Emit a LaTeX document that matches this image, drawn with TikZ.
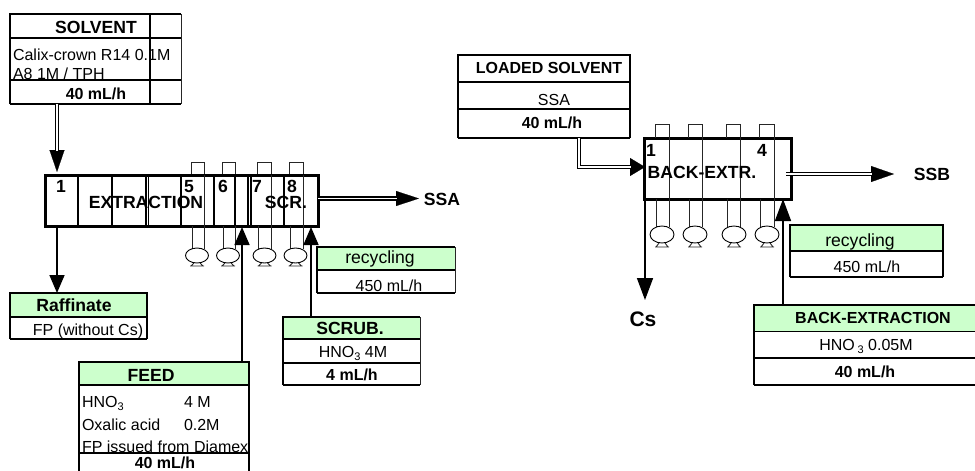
\documentclass[tikz,border=0pt]{standalone}
\usepackage{fontspec}
\setmainfont{Liberation Sans}
\usetikzlibrary{arrows.meta,shapes.geometric,calc}
\definecolor{palegreen}{HTML}{CCFFCC}
\tikzset{
  x=1pt,y=-1pt,
  lbl/.style={inner sep=0pt,outer sep=0pt,text height=11.5pt,text depth=0pt,font=\fontsize{16}{18}\selectfont},
  lblb/.style={lbl,font=\fontsize{16}{18}\selectfont\bfseries},
  lblB/.style={lbl,font=\fontsize{17.6}{20}\selectfont\bfseries},
  lblg/.style={lbl,font=\fontsize{17.6}{20}\selectfont},
  panel/.style={inner sep=0pt,outer sep=0pt,anchor=north west},
  tline/.style={line width=1.6pt,black},
  thin line/.style={line width=0.9pt,black!85},
  thick box/.style={draw=black,line width=3pt},
  pipe/.style={line width=0.9pt,black!85},
  arrow solid/.style={line width=1.6pt,-{Triangle[length=18pt,width=15pt]}},
  pumpbody/.style={ellipse,draw=black,line width=0.9pt,fill=white,inner sep=0pt,outer sep=0pt},
}
% \panel{name}{x1}{y1}{x2}{y2}{style}
\newcommand{\panel}[6]{%
  \pgfmathsetmacro{\pw}{#4-#2}\pgfmathsetmacro{\ph}{#5-#3}%
  \node[panel,minimum width=\pw pt,minimum height=\ph pt,#6] (#1) at (#2,#3) {};}
% \dblconn{tip length}{tip width}{path}
\newcommand{\dblconn}[3]{%
  \draw[line width=0.2pt,-{Triangle[length=#1pt,width=#2pt]}] #3;
  \draw[line width=4.4pt,black,shorten >=#1pt-1pt] #3;
  \draw[line width=1.5pt,white,shorten >=#1pt-1pt] #3;}
\begin{document}
\begin{tikzpicture}[x=1pt,y=-1pt]
\useasboundingbox (0,0) rectangle (975,471);

% ===== green fills =====
\panel{raffhead}{10}{293}{147}{317}{fill=palegreen}
\panel{feedhead}{79}{362}{249}{385}{fill=palegreen}
\panel{scrubhead}{283}{317}{420}{339}{fill=palegreen}
\panel{recy1head}{317}{247}{455}{270}{fill=palegreen}
\panel{recy2head}{790}{225}{943}{251}{fill=palegreen}
\panel{backhead}{754}{305}{975}{331}{fill=palegreen}

% ===== SOLVENT table =====
\panel{solvent}{10}{14}{181}{104}{}
\draw[tline] (10,104) -- (10,14) -- (181,14) (10,38) -- (181,38) (10,80) -- (181,80) (10,104) -- (181,104) (150,14) -- (150,104);
\draw[thin line] (181,14) -- (181,104);
\node[lblB] (tsolvent) at (96,28) {SOLVENT};
\node[lbl,anchor=west] (tcalix) at (13,55) {Calix-crown R14 0.1M};
\node[lbl,anchor=west] (ta8) at (13,74) {A8 1M / TPH};
\draw[tline] (10,80) -- (181,80);
\node[lblb] (tsolflow) at (96,94) {40 mL/h};

% ===== EXTRACTION battery =====
\panel{extr}{45}{175}{318}{226}{thick box}
\foreach \vx in {78,112,146,148.5,181,214,235,284}{\draw[line width=1.1pt] (\vx,175) -- (\vx,226);}
\draw[line width=1.4pt] (248,175) -- (248,226) (251,175) -- (251,226);
\draw[pipe] (204,175) -- (204,226) (271,175) -- (271,226) (303,175) -- (303,226);
\foreach \nm/\xl/\xr/\cx in {pa/191/204/197,pb/222/235/228,pc/257/271/264.5,pd/289/303/295.5}{
  \draw[pipe] (\xl,174) -- (\xl,162) -- (\xr,162) -- (\xr,174);
  \draw[pipe] (\xl+1,226) -- (\xl+1,249) (\xr,226) -- (\xr,249);
  \node[pumpbody,minimum width=23pt,minimum height=15pt] (\nm) at (\cx,255.5) {};
  \draw[pipe] (\cx-7,266) -- (\cx+7,266) (\cx-6,266) -- (\cx-3,263) (\cx+6,266) -- (\cx+3,263);
}
\node[lblB] (tone) at (61,187) {1};
\node[lblB] (textraction) at (146,203) {EXTRACTION};
\node[lblB] (tfive) at (189,187) {5};
\node[lblB] (tsix) at (223,187) {6};
\node[lblB] (tseven) at (257,187) {7};
\node[lblB] (teight) at (292,187) {8};
\node[lblB] (tscr) at (286,203) {SCR.};

% ===== recycling (left) =====
\draw[tline] (317,293) -- (317,247) -- (455,247) (317,270) -- (455,270) (317,293) -- (455,293);
\draw[thin line] (455,247) -- (455,293);
\node[lblg] (trecy1) at (380,258) {recycling};
\node[lbl] (trecy1f) at (389,286) {450 mL/h};

% ===== Raffinate =====
\draw[tline] (10,339) -- (10,293) -- (147,293) -- (147,339) (10,317) -- (147,317) (10,339) -- (147,339);
\node[lblB] (traff) at (74,306) {Raffinate};
\node[lbl] (tfp) at (88,330) {FP (without Cs)};

% ===== FEED =====
\draw[tline] (79,471) -- (79,362) -- (249,362) -- (249,471) (79,385) -- (249,385);
\node[lblB] (tfeed) at (151,376) {FEED};
\node[lbl,anchor=west] (thno) at (82,402) {HNO\raisebox{-2.5pt}{\fontsize{11}{11}\selectfont 3}};
\node[lbl,anchor=west] (tfour) at (184,402) {4 M};
\node[lbl,anchor=west] (tox) at (82,425) {Oxalic acid};
\node[lbl,anchor=west] (toxm) at (184,425) {0.2M};
\node[lbl,anchor=west] (tfpi) at (82,447) {FP issued from Diamex};
\draw[tline] (79,453) -- (249,453);
\node[lblb] (tfeedf) at (165,462.5) {40 mL/h};

% ===== SCRUB =====
\draw[tline] (283,385) -- (283,317) -- (420,317) (283,339) -- (420,339) (283,363) -- (420,363) (283,385) -- (420,385);
\draw[thin line] (420,317) -- (420,385);
\node[lblB] (tscrub) at (350,329) {SCRUB.};
\node[lbl] (thno2) at (353,352) {HNO\raisebox{-2.5pt}{\fontsize{11}{11}\selectfont 3} 4M};
\node[lblb] (tscrubf) at (352,375) {4 mL/h};

% ===== LOADED SOLVENT =====
\panel{loaded}{458}{55}{630}{138}{}
\draw[tline] (458,138) -- (458,55) -- (630,55) -- (630,138) (458,109) -- (630,109) (458,138) -- (630,138);
\draw[line width=1.1pt] (458,82) -- (631,82);
\node[lblb] (tloaded) at (549,68) {LOADED SOLVENT};
\node[lbl] (tssa2) at (554,100) {SSA};
\node[lblb] (tloadf) at (552,123) {40 mL/h};

% ===== BACK-EXTR battery =====
\panel{bext}{644}{138}{791}{199}{thick box}
\foreach \nm/\xl/\xr/\cx in {qa/655/669/662,qb/688/702/695,qc/726/740/734,qd/759/774/767}{
  \draw[pipe] (\xl,138) -- (\xl,124) -- (\xr,124) -- (\xr,138);
  \draw[pipe] (\xr,138) -- (\xr,227);
  \draw[pipe] (\xl+1,199) -- (\xl+1,227);
  \node[pumpbody,minimum width=24pt,minimum height=17pt] (\nm) at (\cx,234.5) {};
  \draw[pipe] (\cx-7,247) -- (\cx+7,247) (\cx-6,247) -- (\cx-3,243) (\cx+6,247) -- (\cx+3,243);
}
\node[lblB] (tb1) at (651,151) {1};
\node[lblB] (tb4) at (762,151) {4};
\node[lblB] (tbext) at (702,173) {BACK-EXTR.};

% ===== recycling (right) =====
\draw[tline] (790,277) -- (790,225) -- (943,225) -- (943,277) (790,251) -- (943,251) (790,277) -- (943,277);
\node[lblg] (trecy2) at (860,241) {recycling};
\node[lbl] (trecy2f) at (867,267) {450 mL/h};

% ===== BACK-EXTRACTION =====
\draw[tline] (754,385) -- (754,305) -- (975,305) (754,358) -- (975,358) (754,385) -- (975,385);
\draw[line width=1pt] (754,331) -- (975,331);
\node[lblb] (tbackx) at (873,318) {BACK-EXTRACTION};
\node[lbl] (thno3) at (866,345) {HNO\,\raisebox{-2.5pt}{\fontsize{11}{11}\selectfont 3} 0.05M};
\node[lblb] (tbackf) at (865,372) {40 mL/h};

% ===== outlet labels =====
\node[lblB] (ssa) at (442,200) {SSA};
\node[lblB] (ssb) at (932,175) {SSB};
\node[lbl,font=\fontsize{21}{24}\selectfont\bfseries,text height=14.5pt] (cs) at (643,319) {Cs};

% ===== connector ends =====
\coordinate (solin) at (57,172);
\coordinate (rafx) at (57,226);
\coordinate (feedin) at (242,227);
\coordinate (scrubin) at (311,227);
\coordinate (ssaend) at (419,198.5);
\coordinate (ssaout) at (318,198.5);
\coordinate (loadx) at (579,138);
\coordinate (loadbend) at (579,167);
\coordinate (loadin) at (645,167);
\coordinate (ssbout) at (786,174);
\coordinate (ssbend) at (894,174);
\coordinate (csout) at (645,199);
\coordinate (csend) at (645,300);
\coordinate (backin) at (783,199);

% ===== connectors =====
\dblconn{22}{15}{(solvent.south -| solin) -- (solin)}
\draw[arrow solid] (rafx) -- (raffhead.north -| rafx);
\draw[arrow solid] (feedhead.north -| feedin) -- (feedin);
\draw[arrow solid] (scrubhead.north -| scrubin) -- (scrubin);
\dblconn{23}{15}{(ssaout) -- (ssaend)}
\dblconn{15}{18}{(loadx) -- (loadbend) -- (loadin)}
\dblconn{23}{16}{(ssbout) -- (ssbend)}
\draw[arrow solid,-{Triangle[length=22pt,width=16pt]}] (csout) -- (csend);
\draw[arrow solid,-{Triangle[length=22pt,width=16pt]}] (backhead.north -| backin) -- (backin);
\end{tikzpicture}
\end{document}
